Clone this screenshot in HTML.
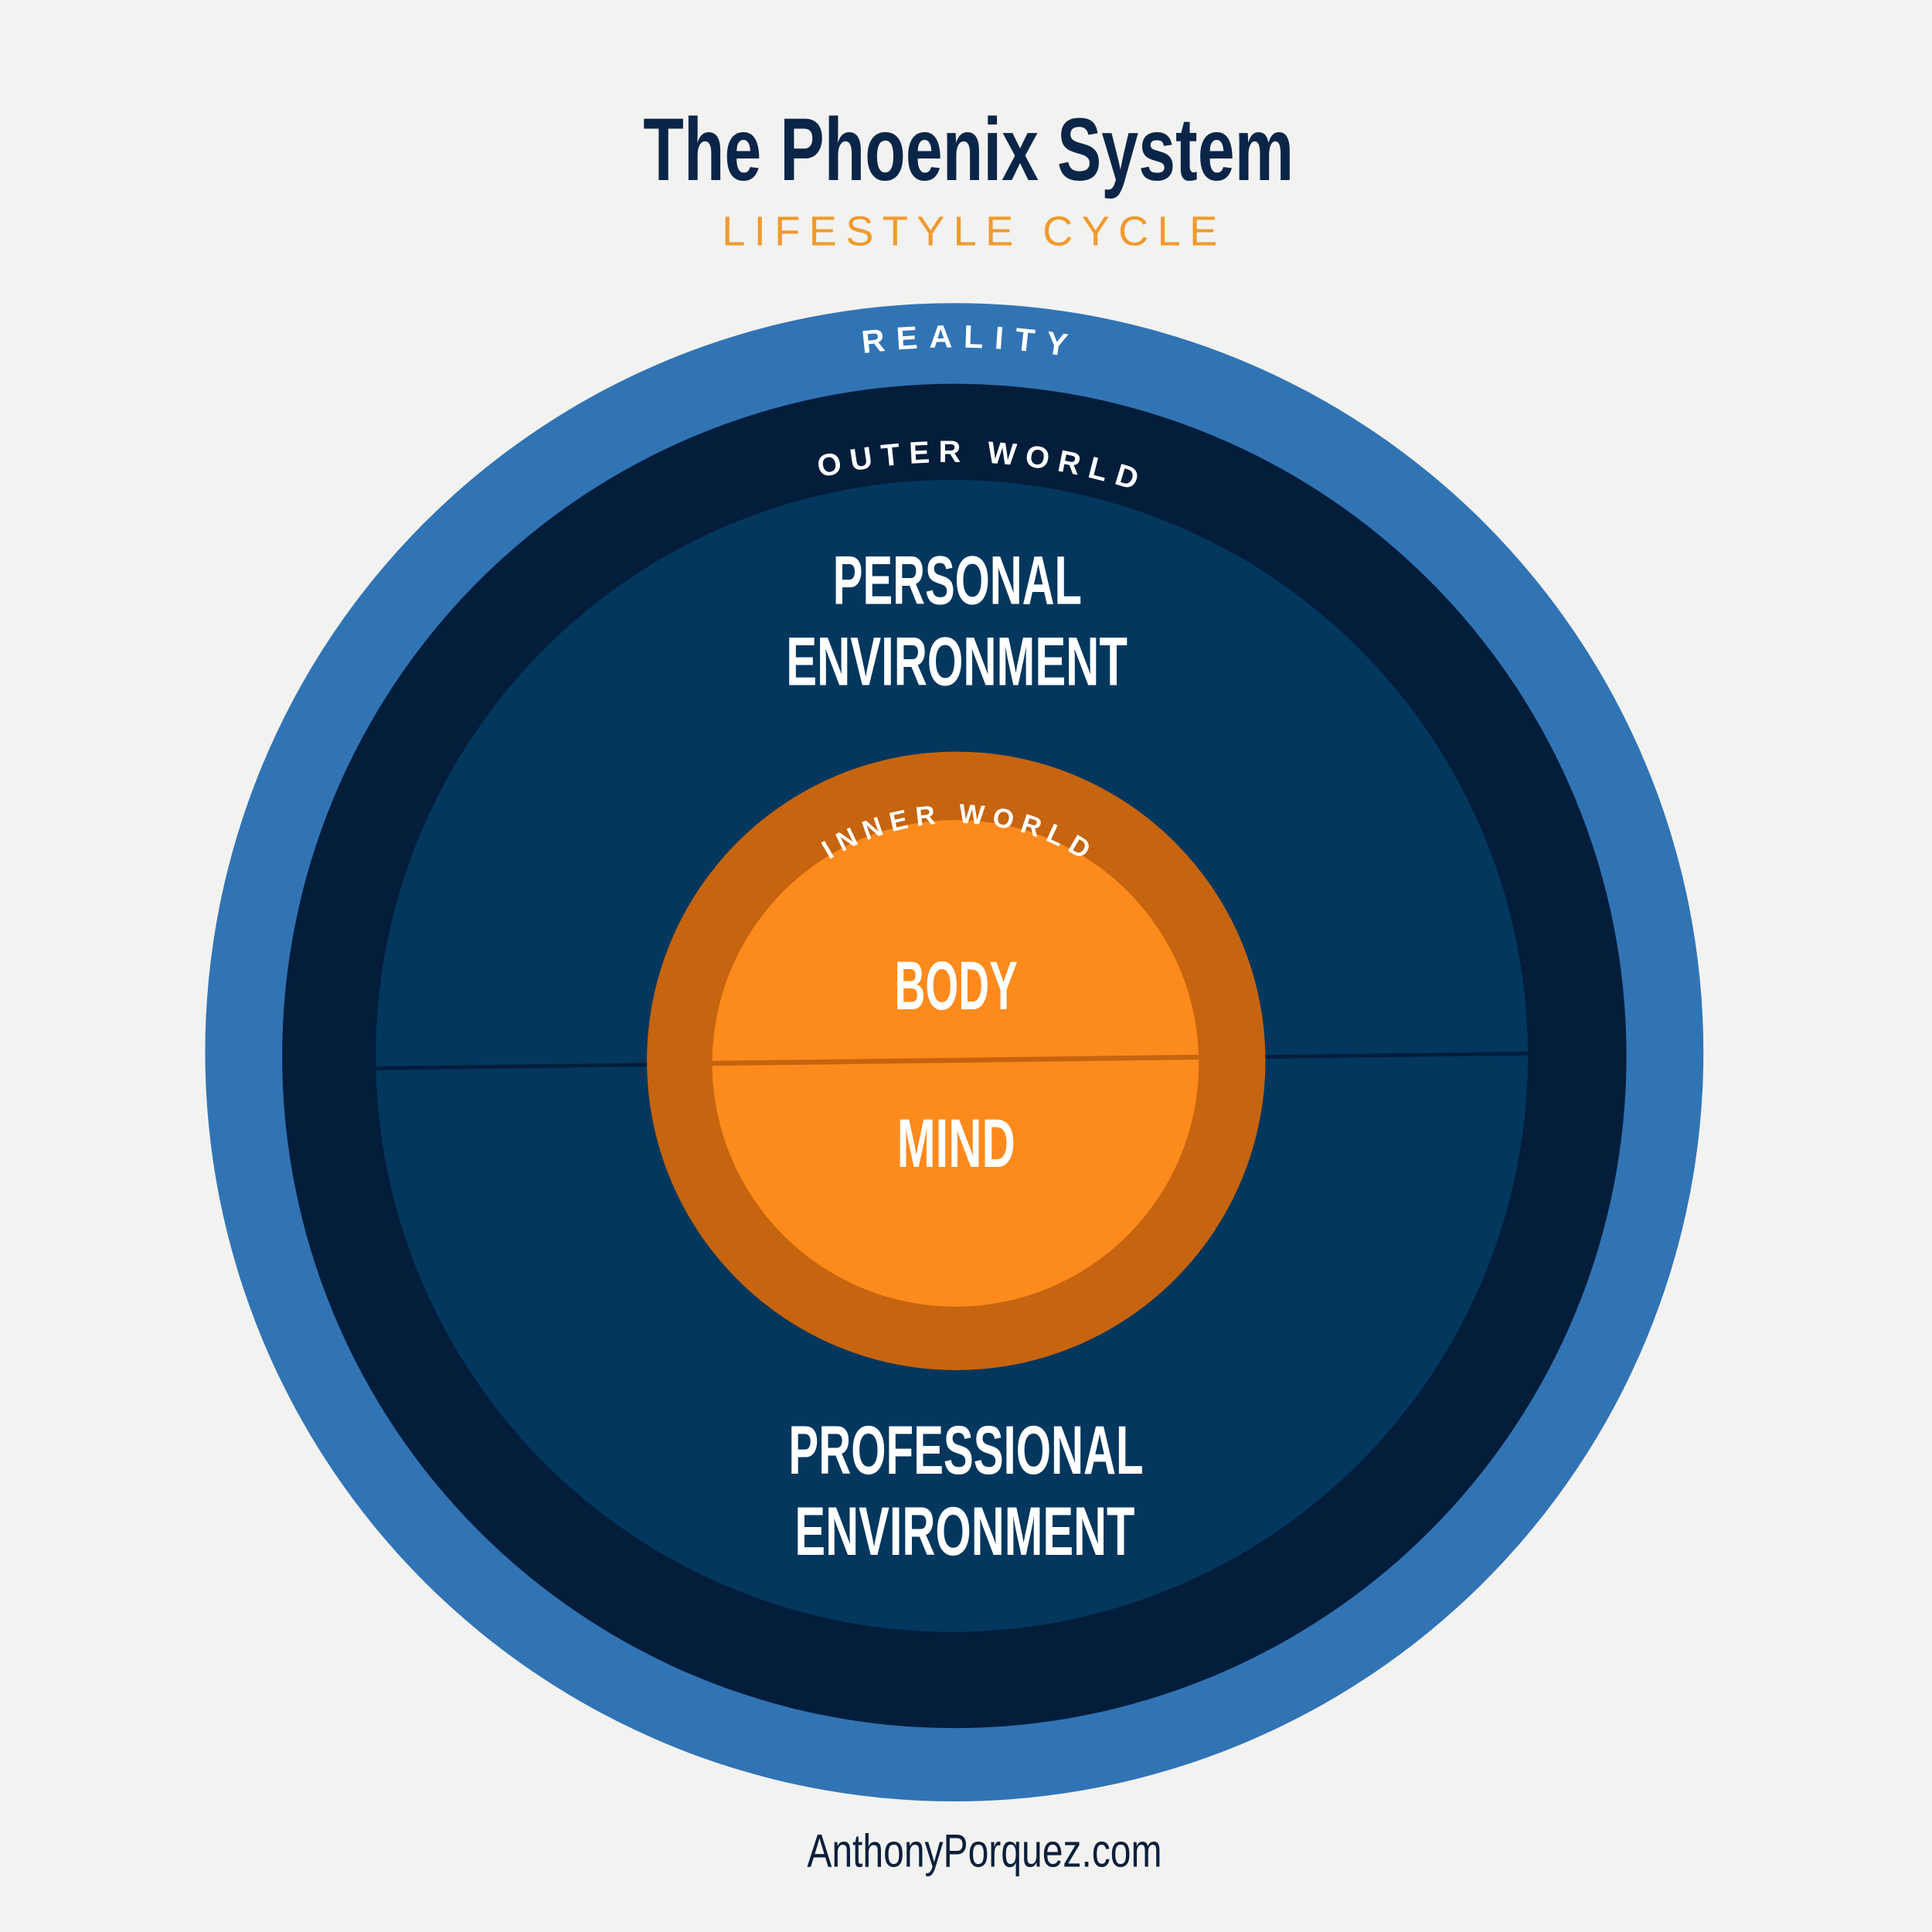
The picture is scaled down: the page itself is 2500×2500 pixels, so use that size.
<!DOCTYPE html>
<html><head><meta charset="utf-8"><style>
html,body{margin:0;padding:0;background:#f2f2f1;}
svg{display:block}
</style></head><body>
<svg width="2500" height="2500" viewBox="0 0 1568 1568" xmlns="http://www.w3.org/2000/svg">
<rect width="1568" height="1568" fill="#f2f2f1"/>
<defs>
<path id="pR" d="M 199.5 857 A 575 575 0 0 1 1349.5 857"/>
<path id="pO" d="M 292.5 857 A 482 482 0 0 1 1256.5 857"/>
<path id="pI" d="M 583 861 A 193 193 0 0 1 969 861"/>
</defs>
<text x="786" y="146" text-anchor="middle" font-family="Liberation Sans, sans-serif" font-weight="bold" font-size="72" fill="#0b2548" textLength="528" lengthAdjust="spacingAndGlyphs">The Phoenix System</text>
<text x="787" y="199" text-anchor="middle" font-family="Liberation Sans, sans-serif" font-size="34" fill="#f09a2c" textLength="402" lengthAdjust="spacing">LIFESTYLE CYCLE</text>

<circle cx="774.5" cy="854" r="608" fill="#3174b4"/>
<circle cx="774.5" cy="857" r="545.5" fill="#031d3b"/>
<circle cx="772.5" cy="857" r="467.5" fill="#03375e"/>
<line x1="305" y1="867" x2="1240" y2="855" stroke="#031d3b" stroke-width="3"/>
<circle cx="776" cy="861" r="251" fill="#c6640f"/>
<circle cx="775.5" cy="863" r="197.5" fill="#fd8a1c"/>
<line x1="578" y1="863" x2="973" y2="858" stroke="#c6640f" stroke-width="4"/>

<text font-family="Liberation Sans, sans-serif" font-weight="bold" font-size="26" fill="#fff" letter-spacing="9"><textPath href="#pR" startOffset="50.7%" text-anchor="middle">REALITY</textPath></text>
<text font-family="Liberation Sans, sans-serif" font-weight="bold" font-size="25" fill="#fff" letter-spacing="7"><textPath href="#pO" startOffset="51.5%" text-anchor="middle">OUTER WORLD</textPath></text>
<text font-family="Liberation Sans, sans-serif" font-weight="bold" font-size="22" fill="#fff" letter-spacing="6"><textPath href="#pI" startOffset="50.5%" text-anchor="middle">INNER WORLD</textPath></text>

<g font-family="Liberation Sans, sans-serif" font-weight="bold" font-size="56" fill="#fff" text-anchor="middle">
<text x="777" y="490" textLength="202" lengthAdjust="spacingAndGlyphs">PERSONAL</text>
<text x="776.5" y="556" textLength="277" lengthAdjust="spacingAndGlyphs">ENVIRONMENT</text>
<text x="776" y="819" textLength="100" lengthAdjust="spacingAndGlyphs">BODY</text>
<text x="776" y="947" textLength="96" lengthAdjust="spacingAndGlyphs">MIND</text>
<text x="784" y="1196" textLength="288" lengthAdjust="spacingAndGlyphs">PROFESSIONAL</text>
<text x="783" y="1262" textLength="276" lengthAdjust="spacingAndGlyphs">ENVIRONMENT</text>
</g>
<text x="799" y="1515" text-anchor="middle" font-family="Liberation Sans, sans-serif" font-size="38" fill="#0b1f3a" textLength="288" lengthAdjust="spacingAndGlyphs">AnthonyPorquez.com</text>
</svg>
</body></html>
